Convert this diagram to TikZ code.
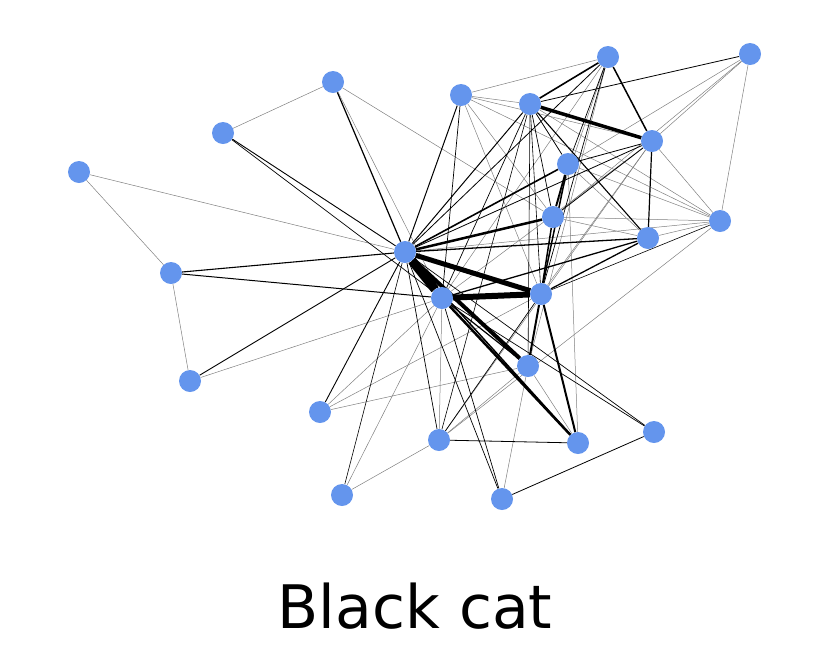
\documentclass[tikz,border=0pt]{standalone}
\usepackage{fontspec}
\setmainfont{DejaVu Sans}
\usetikzlibrary{backgrounds}
\definecolor{nodeblue}{RGB}{100,149,237}
\begin{document}
\begin{tikzpicture}[x=1pt,y=-1pt,
  vtx/.style={circle,fill=nodeblue,minimum size=22pt,inner sep=0pt},
  thin/.style={draw=black!50,line width=0.5pt},
  mid/.style={draw=black,line width=#1pt},
  title/.style={font=\fontsize{60}{72}\selectfont,anchor=base,inner sep=0pt}]
\useasboundingbox (0,0) rectangle (830,649);
% vertices
\node[vtx] (A) at (608,57) {};
\node[vtx] (B) at (750,54) {};
\node[vtx] (C) at (333,82) {};
\node[vtx] (D) at (461,95) {};
\node[vtx] (E) at (530,104) {};
\node[vtx] (F) at (223,133) {};
\node[vtx] (G) at (652,141) {};
\node[vtx] (H) at (568,164) {};
\node[vtx] (I) at (79,172) {};
\node[vtx] (J) at (720,221) {};
\node[vtx] (K) at (553,217) {};
\node[vtx] (L) at (648,238) {};
\node[vtx] (M) at (405,252) {};
\node[vtx] (N) at (171,273) {};
\node[vtx] (O) at (442,298) {};
\node[vtx] (P) at (541,294) {};
\node[vtx] (Q) at (528,366) {};
\node[vtx] (R) at (190,381) {};
\node[vtx] (S) at (320,412) {};
\node[vtx] (T) at (654,432) {};
\node[vtx] (U) at (439,440) {};
\node[vtx] (V) at (578,443) {};
\node[vtx] (W) at (342,495) {};
\node[vtx] (X) at (502,499) {};
\node[title] (cap) at (415,628) {Black cat};
\begin{scope}[on background layer]
% thin grey edges
\foreach \a/\b in {C/F,C/K,I/N,I/M,R/O,S/O,S/P,S/Q,W/O,U/O,U/Q,U/J,W/U,X/Q,
  D/A,D/E,D/G,D/J,D/P,D/K,B/G,B/K,B/H,B/J,H/E,H/L,H/J,H/V,K/L,K/J,J/G,J/L,
  J/E,J/M,A/K,A/Q,A/O,G/O,G/P,G/U,V/Q,N/R,C/O}
  \draw[thin] (\a) -- (\b);
% black edges with weights
\foreach \a/\b/\w in {C/M/1.2,F/M/0.9,F/O/0.7,N/M/1.1,N/O/1,R/M/0.9,S/M/0.9,
  W/M/0.6,U/M/0.7,U/P/0.7,U/V/0.8,X/M/0.7,X/O/0.7,X/T/0.8,M/T/0.7,O/T/0.7,
  D/M/1,D/O/0.7,E/M/1,E/O/0.7,E/U/0.6,E/Q/0.6,E/K/0.7,E/P/0.6,E/L/1.1,E/H/0.7,
  B/E/0.8,A/E/1.6,A/G/1.5,A/M/0.8,A/H/0.7,A/P/0.7,G/L/1.2,G/H/0.8,G/K/0.8,
  G/M/0.8,L/M/1.3,L/O/1.3,L/P/1.3,P/J/0.6,
  M/O/9,O/P/6,M/P/5,M/Q/4,K/M/2.5,O/V/2.5,M/V/1.5,O/Q/1.2,E/G/3.5,H/K/1.8,
  H/P/1.5,K/P/1.5,H/M/1.6,P/Q/2,P/V/2}
  \draw[mid=\w] (\a) -- (\b);
\end{scope}
\end{tikzpicture}
\end{document}
